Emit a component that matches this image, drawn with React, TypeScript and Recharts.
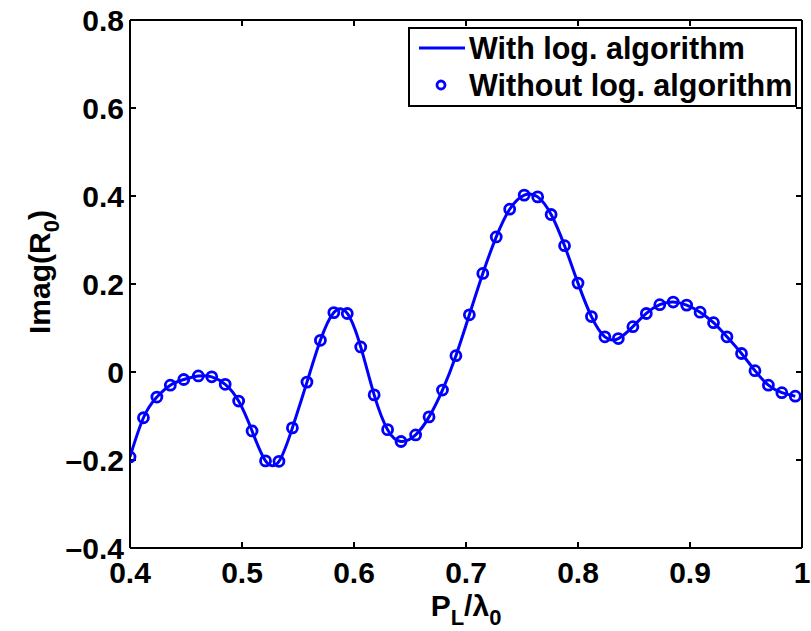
import React from 'react';
import { ComposedChart, Line, XAxis, YAxis } from 'recharts';

const xValues = [0.400, 0.412, 0.424, 0.436, 0.448, 0.461, 0.473, 0.485, 0.497, 0.509,
  0.521, 0.533, 0.545, 0.558, 0.570, 0.582, 0.594, 0.606, 0.618, 0.630,
  0.642, 0.655, 0.667, 0.679, 0.691, 0.703, 0.715, 0.727, 0.739, 0.752,
  0.764, 0.776, 0.788, 0.800, 0.812, 0.824, 0.836, 0.849, 0.861, 0.873,
  0.885, 0.897, 0.909, 0.921, 0.933, 0.946, 0.958, 0.970, 0.982, 0.994];

const imagR0 = [-0.193, -0.104, -0.057, -0.030, -0.017, -0.009, -0.011, -0.028, -0.066, -0.134,
  -0.202, -0.203, -0.127, -0.023, 0.072, 0.135, 0.133, 0.057, -0.052, -0.131,
  -0.158, -0.143, -0.102, -0.041, 0.037, 0.130, 0.224, 0.307, 0.370, 0.402,
  0.398, 0.358, 0.287, 0.202, 0.126, 0.080, 0.076, 0.103, 0.133, 0.153,
  0.159, 0.152, 0.136, 0.112, 0.080, 0.042, 0.003, -0.030, -0.047, -0.055];

const xTicks = [0.4, 0.5, 0.6, 0.7, 0.8, 0.9, 1];
const yTicks = [-0.4, -0.2, 0, 0.2, 0.4, 0.6, 0.8];

const seriesLine = 'With log. algorithm';
const seriesMarks = 'Without log. algorithm';

const data = xValues.map((x, i) => ({ x, y: imagR0[i] }));

const BLUE = '#0000FF';
const FONT = '"Liberation Sans", Arial, Helvetica, sans-serif';

const fmtX = (v: number) => (v === 1 ? '1' : v.toFixed(1));
const fmtY = (v: number) => (v === 0 ? '0' : v < 0 ? '\u2013' + Math.abs(v).toFixed(1) : v.toFixed(1));

const LegendBox = () => (
  <div
    style={{
      position: 'absolute',
      left: 408,
      top: 27,
      width: 385,
      height: 76,
      border: '2px solid black',
      background: 'white',
      fontFamily: FONT,
      fontWeight: 'bold',
      fontSize: 30.5,
      color: 'black',
    }}
  >
    <svg width={60} height={76} style={{ position: 'absolute', left: 0, top: 0 }}>
      <line x1={9} x2={55} y1={19} y2={19} stroke={BLUE} strokeWidth={3} />
      <circle cx={31} cy={56} r={4} stroke={BLUE} strokeWidth={2.8} fill="none" />
    </svg>
    <div style={{ position: 'absolute', left: 59, top: 2, lineHeight: '34px', whiteSpace: 'nowrap' }}>{seriesLine}</div>
    <div style={{ position: 'absolute', left: 59, top: 39, lineHeight: '34px', whiteSpace: 'nowrap' }}>{seriesMarks}</div>
  </div>
);

const XLabel = (props: any) => {
  const vb = props.viewBox || {};
  const cx = vb.x + vb.width / 2;
  const y = 616;
  return (
    <text x={cx} y={y} textAnchor="middle" fontFamily={FONT} fontWeight="bold" fontSize={30} fill="black">
      P<tspan fontSize={22} dy={9}>L</tspan>
      <tspan dy={-9}>/λ</tspan>
      <tspan fontSize={22} dy={9}>0</tspan>
    </text>
  );
};

const YLabel = () => {
  const cy = 272;
  const x = 50;
  return (
    <text
      x={x}
      y={cy}
      textAnchor="middle"
      transform={`rotate(-90, ${x}, ${cy})`}
      fontFamily={FONT}
      fontWeight="bold"
      fontSize={30}
      fill="black"
    >
      Imag(R<tspan fontSize={22} dy={9}>0</tspan>
      <tspan dy={-9}>)</tspan>
    </text>
  );
};

const tickStyle = { fontFamily: FONT, fontWeight: 'bold', fontSize: 30, fill: 'black' } as any;
const frame = { stroke: 'black', strokeWidth: 2 };

export default function App() {
  return (
    <div style={{ position: 'absolute', left: 0, top: 0, width: 811, height: 631, background: 'white' }}>
      <ComposedChart
        width={811}
        height={631}
        data={data}
        margin={{ top: 19, right: 8, left: 50, bottom: 23 }}
      >
        <XAxis
          xAxisId="bottom"
          dataKey="x"
          type="number"
          domain={[0.4, 1]}
          ticks={xTicks}
          tickFormatter={fmtX}
          allowDataOverflow
          height={60}
          tickSize={-6}
          tickMargin={20}
          tick={tickStyle}
          axisLine={frame}
          tickLine={frame}
          label={<XLabel />}
        />
        <XAxis
          xAxisId="top"
          orientation="top"
          dataKey="x"
          type="number"
          domain={[0.4, 1]}
          ticks={xTicks}
          tickFormatter={() => ''}
          allowDataOverflow
          height={1}
          tickSize={-6}
          tick={tickStyle}
          axisLine={frame}
          tickLine={frame}
        />
        <YAxis
          yAxisId="left"
          type="number"
          domain={[-0.4, 0.8]}
          ticks={yTicks}
          tickFormatter={fmtY}
          allowDataOverflow
          width={80}
          tickSize={-6}
          tickMargin={12}
          tick={tickStyle}
          axisLine={frame}
          tickLine={frame}
          label={<YLabel />}
        />
        <YAxis
          yAxisId="right"
          orientation="right"
          type="number"
          domain={[-0.4, 0.8]}
          ticks={yTicks}
          tickFormatter={() => ''}
          allowDataOverflow
          width={1}
          tickSize={-6}
          tick={tickStyle}
          axisLine={frame}
          tickLine={frame}
        />
        <Line
          xAxisId="bottom"
          yAxisId="left"
          name={seriesLine}
          type="natural"
          dataKey="y"
          stroke={BLUE}
          strokeWidth={3}
          dot={false}
          activeDot={false}
          isAnimationActive={false}
        />
        <Line
          xAxisId="bottom"
          yAxisId="left"
          name={seriesMarks}
          type="linear"
          dataKey="y"
          stroke="none"
          strokeWidth={0}
          dot={{ r: 5, stroke: BLUE, strokeWidth: 2.8, fill: 'none' }}
          activeDot={false}
          isAnimationActive={false}
        />
      </ComposedChart>
      <LegendBox />
    </div>
  );
}
